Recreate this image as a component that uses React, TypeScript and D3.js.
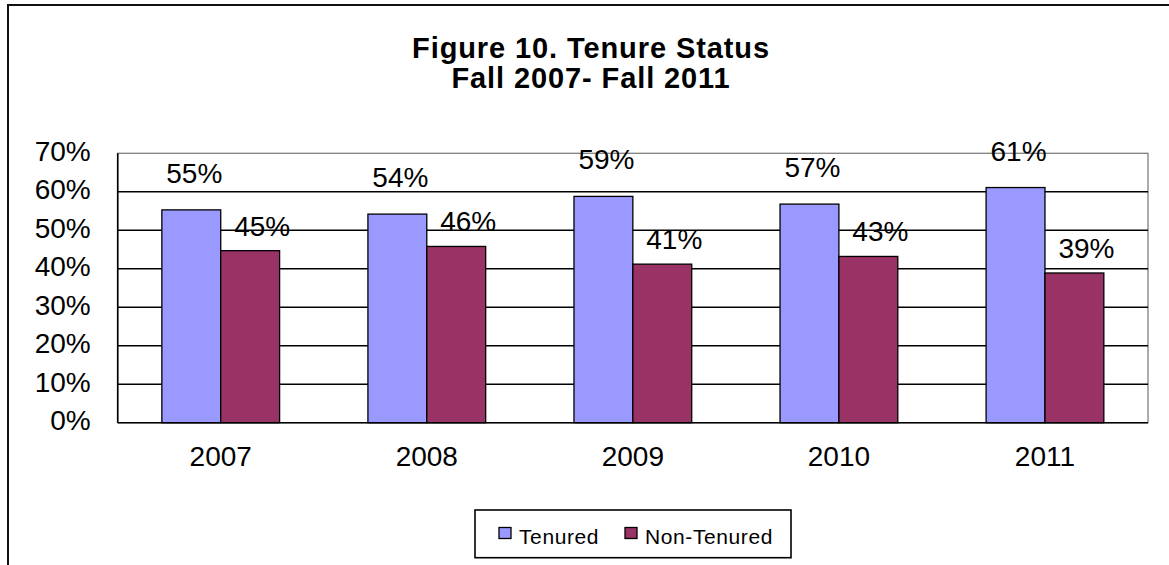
import React from "react";
import * as d3 from "d3";

const categories = ["2007", "2008", "2009", "2010", "2011"];
const tenured = [55.3, 54.2, 58.8, 56.8, 61.1];
const nonTenured = [44.7, 45.8, 41.2, 43.2, 38.9];
const seriesNames = ["Tenured", "Non-Tenured"];
const yTicks = [0, 10, 20, 30, 40, 50, 60, 70];
const titleLines = ["Figure 10. Tenure Status", "Fall 2007- Fall 2011"];

const W = 1169;
const H = 565;
const FONT = "'Liberation Sans', Arial, Helvetica, sans-serif";
const colors = ["#9999FF", "#993366"];

export default function App() {
  const plot = { left: 117.7, right: 1148, top: 153.3, bottom: 422.7 };
  const x0 = d3
    .scaleBand<string>()
    .domain(categories)
    .range([plot.left, plot.right])
    .paddingInner(0)
    .paddingOuter(0);
  const groupPad = 0.75 / 3.5; // Excel gap width 150%
  const x1 = d3
    .scaleBand<string>()
    .domain(seriesNames)
    .range([x0.bandwidth() * groupPad, x0.bandwidth() * (1 - groupPad)]);
  const y = d3.scaleLinear().domain([0, 70]).range([plot.bottom, plot.top]);
  const series = [tenured, nonTenured];
  const labelDy = [-27, -15];
  const labelDx = [3, 12];

  return (
    <svg
      width={W}
      height={H}
      style={{ position: "absolute", left: 0, top: 0, background: "#fff" }}
      fontFamily={FONT}
    >
      <rect x={0} y={0} width={W} height={H} fill="#fff" />
      <rect x={8} y={5} width={W + 20} height={H + 20} fill="none" stroke="#111" strokeWidth={2} />
      {titleLines.map((t, i) => (
        <text
          key={t}
          x={591}
          y={58.3 + i * 30}
          textAnchor="middle"
          fontWeight="bold"
          fontSize={29}
          letterSpacing={0.9}
          fill="#000"
        >
          {t}
        </text>
      ))}
      <rect
        x={plot.left}
        y={plot.top}
        width={plot.right - plot.left}
        height={plot.bottom - plot.top}
        fill="none"
        stroke="#808080"
        strokeWidth={1.3}
      />
      {yTicks.slice(1, -1).map((t) => (
        <line
          key={t}
          x1={plot.left}
          x2={plot.right}
          y1={y(t)}
          y2={y(t)}
          stroke="#000"
          strokeWidth={1.4}
        />
      ))}
      {yTicks.map((t) => (
        <text
          key={"yl" + t}
          x={90.7}
          y={y(t) + 7.7}
          textAnchor="end"
          fontSize={28}
          fill="#000"
        >
          {t + "%"}
        </text>
      ))}
      {categories.map((c, ci) =>
        series.map((vals, si) => {
          const bx = (x0(c) as number) + (x1(seriesNames[si]) as number);
          const bw = x1.bandwidth();
          const v = vals[ci];
          return (
            <rect
              key={c + si}
              x={bx}
              y={y(v)}
              width={bw}
              height={y(0) - y(v)}
              fill={colors[si]}
              stroke="#000"
              strokeWidth={1.3}
            />
          );
        })
      )}
      <line x1={plot.left} x2={plot.left} y1={plot.top} y2={plot.bottom} stroke="#000" strokeWidth={1.6} />
      <line x1={plot.left} x2={plot.right} y1={plot.bottom} y2={plot.bottom} stroke="#000" strokeWidth={1.6} />
      {categories.map((c, ci) =>
        series.map((vals, si) => {
          const bx = (x0(c) as number) + (x1(seriesNames[si]) as number) + x1.bandwidth() / 2;
          const v = vals[ci];
          return (
            <text
              key={"lab" + c + si}
              x={bx + labelDx[si]}
              y={y(v) + labelDy[si]}
              textAnchor="middle"
              fontSize={28}
              fill="#000"
            >
              {Math.round(v) + "%"}
            </text>
          );
        })
      )}
      {categories.map((c) => (
        <text
          key={"xl" + c}
          x={(x0(c) as number) + x0.bandwidth() / 2}
          y={465.7}
          textAnchor="middle"
          fontSize={28}
          fill="#000"
        >
          {c}
        </text>
      ))}
      <rect x={475} y={510} width={316} height={47.7} fill="#fff" stroke="#000" strokeWidth={1.6} />
      {seriesNames.map((s, i) => {
        const lx = [499, 625][i];
        return (
          <g key={s}>
            <rect x={lx} y={527.5} width={12} height={11} fill={colors[i]} stroke="#000" strokeWidth={1.3} />
            <text x={lx + 20} y={544} fontSize={21} letterSpacing={0.6} fill="#000">
              {s}
            </text>
          </g>
        );
      })}
    </svg>
  );
}
